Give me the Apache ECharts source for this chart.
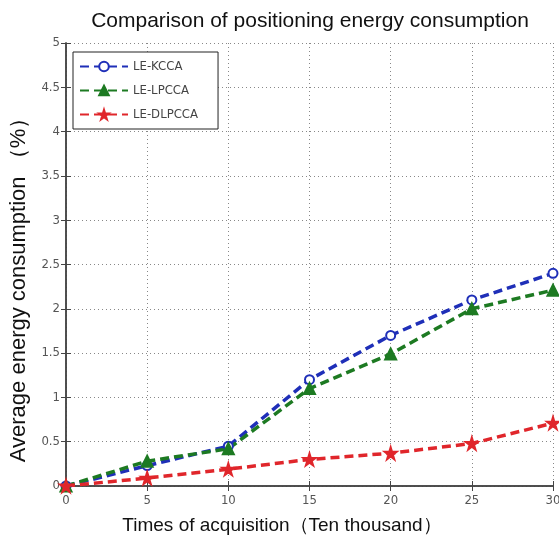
<!DOCTYPE html>
<html><head><meta charset="utf-8">
<script src="https://cdn.jsdelivr.net/npm/echarts@6/dist/echarts.min.js"></script>
<style>html,body{margin:0;padding:0;background:#fff}#c{width:559px;height:541px}</style>
</head><body><div id="c"></div>
<script>
const categories = [0, 5, 10, 15, 20, 25, 30];
const kcca = [0, 0.23, 0.45, 1.2, 1.7, 2.1, 2.4];
const lpcca = [0, 0.28, 0.42, 1.1, 1.49, 2.0, 2.21];
const dlpcca = [0, 0.09, 0.19, 0.3, 0.37, 0.48, 0.71];
const seriesNames = ['LE-KCCA', 'LE-LPCCA', 'LE-DLPCCA'];

const star = 'path://M50,0 L61,35 L98,35 L68,57 L79,91 L50,70 L21,91 L32,57 L2,35 L39,35 Z';
const narrow = "'DejaVu Sans Condensed', 'Liberation Sans', sans-serif";
function mk(name, data, color, symbol, size) {
  return {
    name, type: 'line', data: categories.map((c, i) => [c, data[i]]),
    symbol, symbolSize: size,
    itemStyle: { color, borderColor: color, borderWidth: 2 },
    lineStyle: { color, width: 3.5, type: [9, 5] },
    z: 3
  };
}
const chart = echarts.init(document.getElementById('c'));
chart.setOption({
  animation: false,
  backgroundColor: '#fff',
  title: {
    text: 'Comparison of positioning energy consumption',
    left: 305, textAlign: 'center', top: 6,
    textStyle: { fontFamily: 'Liberation Sans', fontWeight: 'normal', fontSize: 21, color: '#111' }
  },
  grid: { left: 66, right: 6, top: 43, bottom: 55, outerBoundsMode: 'none', containLabel: false },
  legend: {
    orient: 'vertical', left: 73, top: 52,
    padding: [8, 20, 8, 6], itemGap: 11, itemWidth: 48, itemHeight: 12,
    borderColor: '#222', borderWidth: 1, backgroundColor: '#fff',
    textStyle: { fontFamily: narrow, fontSize: 13, color: '#444' },
    data: seriesNames
  },
  xAxis: [{
    type: 'value', min: 0, max: 30, interval: 5,
    name: 'Times of acquisition（Ten thousand）', nameLocation: 'middle', nameGap: 30,
    nameTextStyle: { fontFamily: 'Liberation Sans', fontSize: 19, color: '#111', padding: [0, 55, 0, 0] },
    axisLine: { lineStyle: { color: '#444', width: 1.5 } },
    axisTick: { inside: true, length: 5, lineStyle: { color: '#444' } },
    axisLabel: { fontFamily: narrow, fontSize: 13, color: '#555', margin: 8 },
    splitLine: { show: true, lineStyle: { color: '#888', type: [1, 3], width: 1 } }
  }, {
    type: 'value', min: 0, max: 30, interval: 5, position: 'top',
    axisLine: { show: true, lineStyle: { color: '#444', width: 1.5 } },
    axisTick: { inside: true, length: 5, lineStyle: { color: '#444' } },
    axisLabel: { show: false }, splitLine: { show: false }
  }],
  yAxis: [{
    type: 'value', min: 0, max: 5, interval: 0.5,
    name: 'Average energy consumption （%）', nameLocation: 'middle', nameGap: 36,
    nameTextStyle: { fontFamily: 'Liberation Sans', fontSize: 22, color: '#111', padding: [0, 40, 0, 0] },
    axisLine: { show: true, lineStyle: { color: '#444', width: 1.5 } },
    axisTick: { inside: true, length: 5, lineStyle: { color: '#444' } },
    axisLabel: { fontFamily: narrow, fontSize: 13, color: '#555', margin: 6 },
    splitLine: { show: true, lineStyle: { color: '#888', type: [1, 3], width: 1 } }
  }, {
    type: 'value', min: 0, max: 5, interval: 0.5, position: 'right',
    axisLine: { show: true, lineStyle: { color: '#444', width: 1.5 } },
    axisTick: { inside: true, length: 5, lineStyle: { color: '#444' } },
    axisLabel: { show: false }, splitLine: { show: false }
  }],
  series: [
    mk(seriesNames[0], kcca, '#1f2fb8', 'emptyCircle', 9),
    mk(seriesNames[1], lpcca, '#1d7a22', 'triangle', 11),
    mk(seriesNames[2], dlpcca, '#e0262b', star, 12)
  ]
});
</script></body></html>
